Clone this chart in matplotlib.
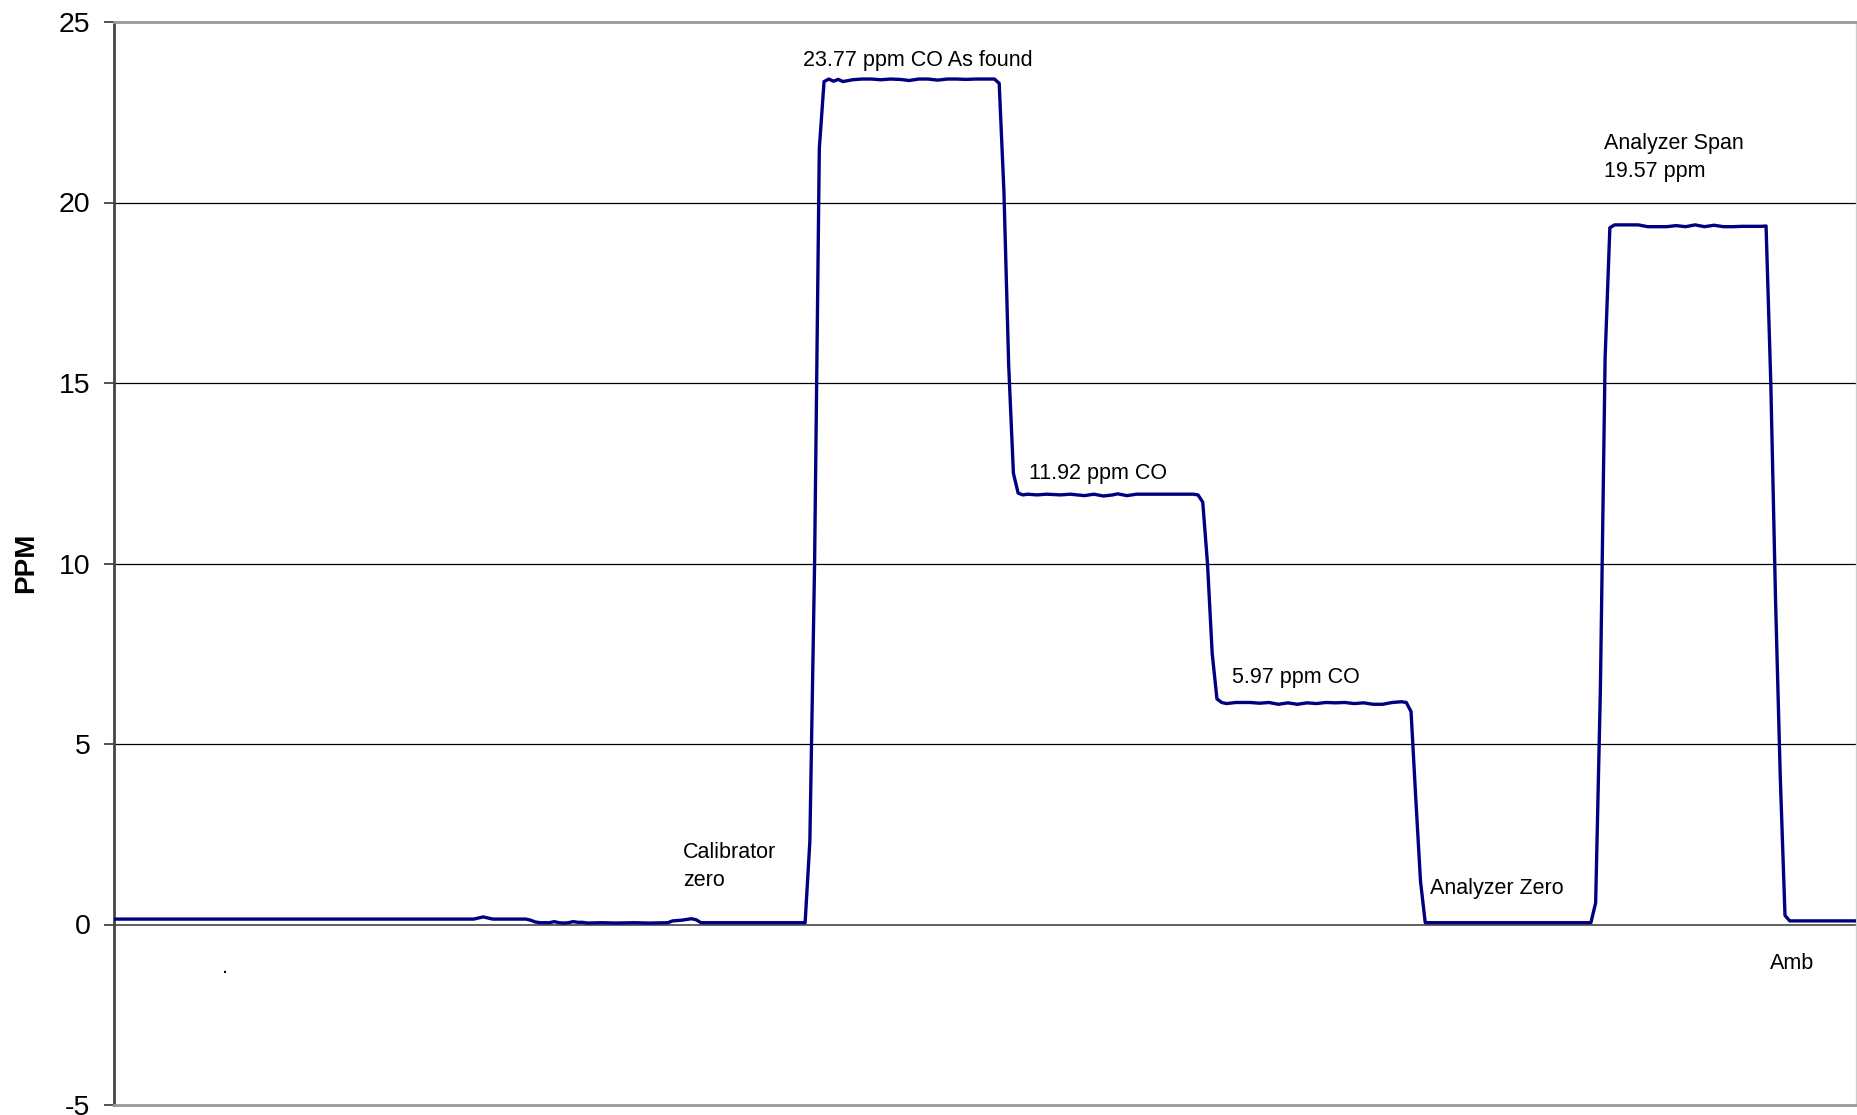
import matplotlib
matplotlib.use("Agg")
import matplotlib.pyplot as plt

plt.rcParams['font.family'] = ['Liberation Sans', 'DejaVu Sans']
plt.rcParams['axes.unicode_minus'] = False

# sample index (one reading per step) and CO reading in ppm
t = [0, 76, 77, 78, 79, 80, 87, 88, 89, 90, 92, 93, 94, 95, 96, 97, 98, 99, 100,
     103, 106, 110, 113, 117, 118, 120, 122, 123, 124, 146,
     147, 148, 149, 150, 151, 152, 153, 154, 156, 158, 160, 162, 164, 166, 168,
     170, 172, 174, 176, 178, 180, 182, 184, 186, 187,
     188, 189, 190, 191, 192, 193, 195, 197, 200, 202, 205, 207, 209, 211, 212,
     214, 216, 220, 224, 228, 229,
     230, 231, 232, 233, 234, 235, 237, 240, 242, 244, 246, 248, 250, 252, 254,
     256, 258, 260, 262, 264, 266, 268, 270, 272, 273,
     274, 275, 276, 277, 290, 300, 312,
     313, 314, 315, 316, 317, 320, 322, 324, 326, 328, 330, 332, 334, 336, 338,
     340, 342, 344, 346, 348, 349,
     350, 351, 352, 353, 354, 368]
ppm = [0.15, 0.15, 0.18, 0.21, 0.18, 0.15, 0.15, 0.12, 0.07, 0.05, 0.05, 0.08, 0.05, 0.04, 0.05, 0.08, 0.06, 0.06, 0.04,
       0.05, 0.04, 0.05, 0.04, 0.05, 0.10, 0.12, 0.16, 0.13, 0.05, 0.05,
       2.3, 10.0, 21.5, 23.35, 23.42, 23.36, 23.41, 23.35, 23.40, 23.42, 23.42, 23.40, 23.42, 23.41, 23.38,
       23.42, 23.42, 23.39, 23.42, 23.42, 23.41, 23.42, 23.42, 23.42, 23.30,
       20.3, 15.5, 12.5, 11.95, 11.90, 11.92, 11.90, 11.92, 11.90, 11.92, 11.88, 11.92, 11.87, 11.90, 11.93,
       11.88, 11.92, 11.92, 11.92, 11.92, 11.90,
       11.7, 10.0, 7.5, 6.25, 6.15, 6.12, 6.15, 6.15, 6.13, 6.15, 6.10, 6.14, 6.10, 6.14, 6.12,
       6.15, 6.14, 6.15, 6.12, 6.14, 6.10, 6.10, 6.15, 6.17, 6.15,
       5.9, 3.5, 1.2, 0.05, 0.05, 0.05, 0.05,
       0.6, 6.5, 15.7, 19.3, 19.38, 19.38, 19.38, 19.33, 19.33, 19.33, 19.36, 19.33, 19.38, 19.33, 19.37,
       19.33, 19.33, 19.34, 19.34, 19.34, 19.35,
       15.0, 9.0, 4.1, 0.25, 0.10, 0.10]

labels = ["23.77 ppm CO As found", "11.92 ppm CO", "5.97 ppm CO", "Calibrator\nzero",
          "Analyzer Zero", "Analyzer Span\n19.57 ppm", "Amb"]
label_x = [145.5, 193.25, 236.25, 120.25, 278, 314.75, 349.75]
label_y = [23.92, 12.48, 6.84, 1.61, 1.0, 21.25, -1.07]

yticks = [-5, 0, 5, 10, 15, 20, 25]

fig = plt.figure(figsize=(18.57, 11.15), dpi=100)
ax = fig.add_axes([114 / 1857, 10 / 1115, 1 - 115 / 1857, 1 - 32 / 1115])

for yv in [5, 10, 15, 20]:
    ax.axhline(yv, color='black', linewidth=0.9, zorder=1)
ax.axhline(0, color='#555555', linewidth=1.3, zorder=1)

ax.plot(t, ppm, color='#000080', linewidth=2.4, zorder=3)

for txt, lx, ly in zip(labels, label_x, label_y):
    ax.text(lx, ly, txt, fontsize=15.5, ha='left', va='center', linespacing=1.45)
ax.text(22.75, -1.35, ".", fontsize=15.5, ha='left', va='baseline')

ax.set_xlim(0, 368)
ax.set_ylim(-5, 25)
ax.set_xticks([])
ax.set_yticks(yticks)
ax.tick_params(axis='y', labelsize=20.5, length=7, width=1.3, color='#444444', pad=10)

ax.spines['left'].set_color('#444444')
ax.spines['left'].set_linewidth(2)
ax.spines['top'].set_color('#999999')
ax.spines['top'].set_linewidth(2)
ax.spines['bottom'].set_color('#999999')
ax.spines['bottom'].set_linewidth(2)
ax.spines['right'].set_color('#cccccc')
ax.spines['right'].set_linewidth(1)

fig.text(26 / 1857, 0.495, "PPM", rotation=90, fontsize=20, fontweight='bold',
         ha='center', va='center')

fig.savefig("out.png", dpi=100)
